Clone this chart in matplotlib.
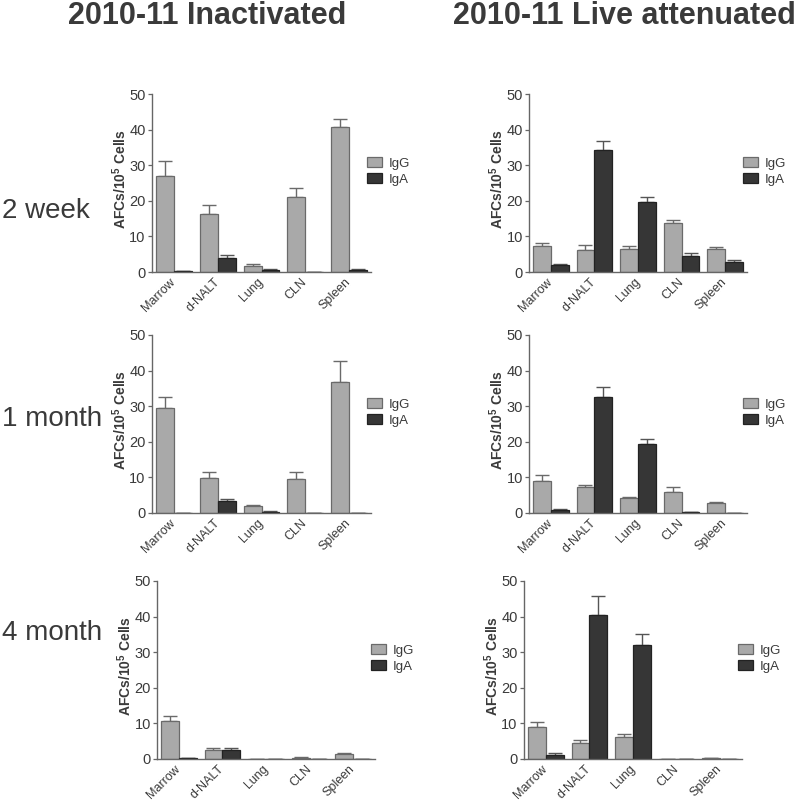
import matplotlib
matplotlib.use("Agg")
import matplotlib.pyplot as plt
import numpy as np

plt.rcParams["font.family"] = ["Liberation Sans", "DejaVu Sans"]
plt.rcParams["mathtext.fontset"] = "custom"
plt.rcParams["mathtext.rm"] = "Liberation Sans"
plt.rcParams["mathtext.bf"] = "Liberation Sans:bold"

# ------------------------------------------------------------------
# data (AFCs per 10^5 cells, mean and SEM)
# ------------------------------------------------------------------
organs = ["Marrow", "d-NALT", "Lung", "CLN", "Spleen"]
series = ["IgG", "IgA"]
columns = ["2010-11 Inactivated", "2010-11 Live attenuated"]
timepoints = ["2 week", "1 month", "4 month"]

inact_2wk_igg = [27.1, 16.3, 1.8, 21.0, 40.8]
inact_2wk_igg_err = [4.2, 2.5, 0.5, 2.7, 2.3]
inact_2wk_iga = [0.3, 3.9, 0.6, 0.1, 0.6]
inact_2wk_iga_err = [0.1, 0.8, 0.2, 0.0, 0.2]

live_2wk_igg = [7.3, 6.2, 6.4, 13.7, 6.6]
live_2wk_igg_err = [0.8, 1.4, 0.9, 1.0, 0.5]
live_2wk_iga = [2.0, 34.2, 19.7, 4.6, 2.7]
live_2wk_iga_err = [0.2, 2.6, 1.5, 0.8, 0.7]

inact_1mo_igg = [29.4, 9.7, 2.0, 9.6, 36.7]
inact_1mo_igg_err = [3.3, 1.8, 0.3, 2.0, 6.1]
inact_1mo_iga = [0.1, 3.3, 0.3, 0.0, 0.1]
inact_1mo_iga_err = [0.0, 0.6, 0.2, 0.0, 0.0]

live_1mo_igg = [9.1, 7.3, 4.1, 5.8, 2.8]
live_1mo_igg_err = [1.7, 0.7, 0.5, 1.5, 0.3]
live_1mo_iga = [0.9, 32.6, 19.5, 0.3, 0.1]
live_1mo_iga_err = [0.2, 2.9, 1.4, 0.0, 0.0]

inact_4mo_igg = [10.7, 2.5, 0.0, 0.4, 1.3]
inact_4mo_igg_err = [1.5, 0.7, 0.0, 0.2, 0.5]
inact_4mo_iga = [0.2, 2.4, 0.0, 0.0, 0.0]
inact_4mo_iga_err = [0.0, 0.6, 0.0, 0.0, 0.0]

live_4mo_igg = [9.1, 4.5, 6.1, 0.1, 0.3]
live_4mo_igg_err = [1.2, 0.7, 1.0, 0.0, 0.1]
live_4mo_iga = [1.2, 40.5, 32.1, 0.0, 0.1]
live_4mo_iga_err = [0.4, 5.3, 3.1, 0.0, 0.0]

panels = [
    [(inact_2wk_igg, inact_2wk_igg_err, inact_2wk_iga, inact_2wk_iga_err),
     (live_2wk_igg, live_2wk_igg_err, live_2wk_iga, live_2wk_iga_err)],
    [(inact_1mo_igg, inact_1mo_igg_err, inact_1mo_iga, inact_1mo_iga_err),
     (live_1mo_igg, live_1mo_igg_err, live_1mo_iga, live_1mo_iga_err)],
    [(inact_4mo_igg, inact_4mo_igg_err, inact_4mo_iga, inact_4mo_iga_err),
     (live_4mo_igg, live_4mo_igg_err, live_4mo_iga, live_4mo_iga_err)],
]

# ------------------------------------------------------------------
# layout, in pixels of the 800 x 801 canvas: (x of y-axis, y of zero line, width)
# ------------------------------------------------------------------
W, H = 800, 801
panel_px = [
    [(152, 272, 219), (529, 272, 218)],
    [(152, 513, 219), (529, 513, 218)],
    [(157, 759, 218), (524, 759, 218)],
]
panel_h = 178
title_x = [207, 624]
row_label_y = [218, 426, 640]

igg_color, igg_edge = "#a9a9a9", "#6a6a6a"
iga_color, iga_edge = "#363636", "#222222"
axis_color = "#666666"
text_color = "#3a3a3a"

fig = plt.figure(figsize=(W / 100, H / 100), dpi=100)

x = np.arange(len(organs))
bw = 0.41

for r, row in enumerate(panels):
    for c, (igg, igg_err, iga, iga_err) in enumerate(row):
        px, py, pw = panel_px[r][c]
        ax = fig.add_axes([px / W, (H - py) / H, pw / W, panel_h / H])

        ax.errorbar(x - bw / 2, igg, yerr=[np.zeros(len(igg)), igg_err],
                    fmt="none", ecolor=igg_edge, elinewidth=1.0, capsize=5,
                    capthick=1.0, zorder=1)
        ax.errorbar(x + bw / 2, iga, yerr=[np.zeros(len(iga)), iga_err],
                    fmt="none", ecolor="#555555", elinewidth=1.0, capsize=5,
                    capthick=1.0, zorder=1)
        ax.bar(x - bw / 2, igg, bw, color=igg_color, edgecolor=igg_edge,
               linewidth=0.9, label=series[0], zorder=2)
        ax.bar(x + bw / 2, iga, bw, color=iga_color, edgecolor=iga_edge,
               linewidth=0.9, label=series[1], zorder=2)

        ax.set_xlim(-0.5, len(organs) - 0.5)
        ax.set_ylim(0, 50)
        ax.set_yticks([0, 10, 20, 30, 40, 50])
        ax.set_xticks(x)
        ax.set_xticklabels(organs, rotation=45, ha="right", va="center",
                           rotation_mode="anchor", fontsize=9,
                           color=text_color)
        ax.tick_params(axis="x", length=0, pad=6)
        ax.tick_params(axis="y", length=3, width=0.9, color=axis_color,
                       labelsize=10.5, labelcolor=text_color, pad=1.5)
        for s in ["top", "right"]:
            ax.spines[s].set_visible(False)
        for s in ["left", "bottom"]:
            ax.spines[s].set_color(axis_color)
            ax.spines[s].set_linewidth(1.0)

        ax.set_ylabel(r"AFCs/10$^{\mathbf{5}}$ Cells", fontsize=10,
                      fontweight="bold", color=text_color)
        ax.yaxis.set_label_coords(-23 / pw, 0.52)

        ax.legend(loc="center left", bbox_to_anchor=(0.98, 0.565),
                  frameon=False, fontsize=9.5, borderpad=0,
                  borderaxespad=0, handlelength=1.15, handleheight=0.75,
                  handletextpad=0.55, labelspacing=0.25,
                  labelcolor=text_color)

for c, title in enumerate(columns):
    fig.text(title_x[c] / W, 1 - 24 / H, title, ha="center", va="baseline",
             fontsize=22, fontweight="bold", color=text_color)

for r, label in enumerate(timepoints):
    fig.text(2 / W, 1 - row_label_y[r] / H, label, ha="left", va="baseline",
             fontsize=20, color=text_color)

fig.savefig("out.png", dpi=100)
